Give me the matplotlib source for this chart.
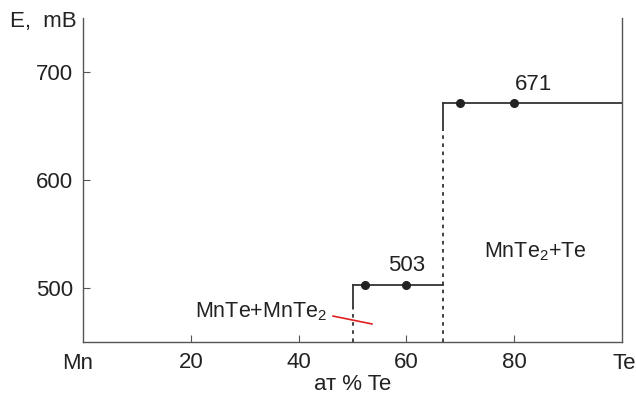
import matplotlib.pyplot as plt

plt.rcParams['font.family'] = ['Liberation Sans', 'DejaVu Sans']
plt.rcParams['mathtext.fontset'] = 'custom'
plt.rcParams['mathtext.rm'] = 'Liberation Sans'
plt.rcParams['mathtext.it'] = 'Liberation Sans'

# step levels (mV) and measured points
x_503 = [50, 66.7]
e_503 = [503, 503]
x_671 = [66.7, 100]
e_671 = [671, 671]
pts_x = [52.3, 60, 70, 80]
pts_e = [503, 503, 671, 671]

xticks = [20, 40, 60, 80]
yticks = [500, 600, 700]

fig = plt.figure(figsize=(6.36, 3.96), dpi=100)
ax = fig.add_axes([83 / 636, 1 - 342 / 396, (622 - 83) / 636, (342 - 18) / 396])
ax.set_xlim(0, 100)
ax.set_ylim(450, 750)

lc = "#333333"
ax.plot(x_503, e_503, color=lc, lw=1.3)
ax.plot(x_671, e_671, color=lc, lw=1.3)
ax.plot([50, 50], [482, 503], color=lc, lw=1.3)
ax.plot([50, 50], [450, 482], color=lc, lw=1.3, linestyle=(0, (2, 2.5)))
ax.plot([66.7, 66.7], [646, 671], color=lc, lw=1.3)
ax.plot([66.7, 66.7], [450, 646], color=lc, lw=1.3, linestyle=(0, (2, 2.5)))
ax.plot(pts_x, pts_e, "o", color="#222222", ms=5.5)
ax.plot([46.4, 53.6], [474, 466.7], color="#e02020", lw=1.2)

ax.text(60, 511, "503", ha="center", va="bottom", fontsize=16, color="#222222")
ax.text(83.5, 679, "671", ha="center", va="bottom", fontsize=16, color="#222222")
ax.text(33, 478, "MnTe+MnTe$_2$", ha="center", va="center", fontsize=15.5, color="#222222")
ax.text(84, 534, "MnTe$_2$+Te", ha="center", va="center", fontsize=15.5, color="#222222")

ax.spines["top"].set_visible(False)
for s in ["left", "bottom", "right"]:
    ax.spines[s].set_color("#555555")
    ax.spines[s].set_linewidth(1.0)

ax.set_xticks(xticks)
ax.set_yticks(yticks)
ax.tick_params(direction="in", length=5, labelsize=16, colors="#555555",
               labelcolor="#222222", pad=7)
ax.tick_params(axis="y", right=False)

ax.text(-1, 450 - 10, "Mn", ha="center", va="top", fontsize=16, color="#222222",
        clip_on=False)
ax.text(100.5, 450 - 10, "Te", ha="center", va="top", fontsize=16, color="#222222",
        clip_on=False)
ax.set_xlabel("ат % Te", fontsize=16, color="#222222", labelpad=1)
fig.text(10 / 636, 1 - 22 / 396, "E,  mB", fontsize=16, color="#222222",
         ha="left", va="center")

fig.savefig("out.png", dpi=100)
